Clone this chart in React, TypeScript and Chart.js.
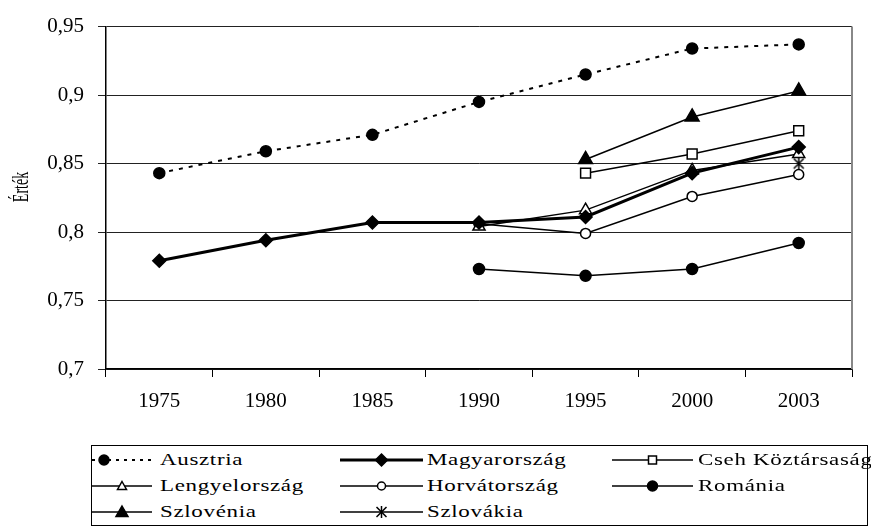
import React, { useEffect, useRef } from 'react';
import { Chart, registerables } from 'chart.js';

Chart.register(...registerables);

const years = ['1975', '1980', '1985', '1990', '1995', '2000', '2003'];
const ausztria = [0.843, 0.859, 0.871, 0.895, 0.915, 0.934, 0.937];
const magyarorszag = [0.779, 0.794, 0.807, 0.807, 0.811, 0.843, 0.862];
const cseh = [null, null, null, null, 0.843, 0.857, 0.874];
const lengyelorszag = [null, null, null, 0.804, 0.816, 0.845, 0.857];
const horvatorszag = [null, null, null, 0.806, 0.799, 0.826, 0.842];
const romania = [null, null, null, 0.773, 0.768, 0.773, 0.792];
const szlovenia = [null, null, null, null, 0.853, 0.884, 0.903];
const szlovakia = [null, null, null, null, null, null, 0.85];
const yTicks = [0.7, 0.75, 0.8, 0.85, 0.9, 0.95];
const yTitle = 'Érték';

const FONT = "'Liberation Serif', 'Times New Roman', serif";

type Shape = 'circle' | 'rectRot' | 'rect' | 'triangle' | 'star';

interface SeriesDef {
  label: string;
  data: (number | null)[];
  shape: Shape;
  radius: number;
  fill: string;
  width: number;
  dash: number[];
}

const series: SeriesDef[] = [
  { label: 'Ausztria', data: ausztria, shape: 'circle', radius: 5.5, fill: '#000', width: 2, dash: [4, 6] },
  { label: 'Magyarország', data: magyarorszag, shape: 'rectRot', radius: 6.5, fill: '#000', width: 3, dash: [] },
  { label: 'Cseh Köztársaság', data: cseh, shape: 'rect', radius: 7, fill: '#fff', width: 1.5, dash: [] },
  { label: 'Lengyelország', data: lengyelorszag, shape: 'triangle', radius: 7, fill: '#fff', width: 1.5, dash: [] },
  { label: 'Horvátország', data: horvatorszag, shape: 'circle', radius: 5, fill: '#fff', width: 1.5, dash: [] },
  { label: 'Románia', data: romania, shape: 'circle', radius: 5.5, fill: '#000', width: 1.5, dash: [] },
  { label: 'Szlovénia', data: szlovenia, shape: 'triangle', radius: 8, fill: '#000', width: 1.5, dash: [] },
  { label: 'Szlovákia', data: szlovakia, shape: 'star', radius: 6, fill: '#000', width: 1.5, dash: [] },
];

function makeAsterisk(): HTMLCanvasElement {
  const c = document.createElement('canvas');
  c.width = 14;
  c.height = 16;
  const g = c.getContext('2d')!;
  g.strokeStyle = '#000';
  g.lineWidth = 1.5;
  g.beginPath();
  g.moveTo(2, 3);
  g.lineTo(12, 13);
  g.moveTo(12, 3);
  g.lineTo(2, 13);
  g.moveTo(7, 1);
  g.lineTo(7, 15);
  g.stroke();
  return c;
}

const framePlugin = {
  id: 'framePlugin',
  afterDraw(chart: any) {
    const { ctx, chartArea } = chart;
    ctx.save();
    ctx.strokeStyle = '#888';
    ctx.lineWidth = 2;
    ctx.beginPath();
    ctx.moveTo(chartArea.right, chartArea.top);
    ctx.lineTo(chartArea.right, chartArea.bottom);
    ctx.stroke();
    ctx.restore();
    // rotated axis title, stretched like the reference
    ctx.save();
    ctx.translate(28, 187);
    ctx.rotate(-Math.PI / 2);
    ctx.scale(1, 1.7);
    ctx.font = `14px ${FONT}`;
    ctx.fillStyle = '#000';
    ctx.textAlign = 'center';
    ctx.textBaseline = 'alphabetic';
    ctx.fillText(yTitle, 0, 0);
    ctx.restore();
  },
};

function Marker({ shape, fill, cx, cy, size }: { shape: Shape; fill: string; cx: number; cy: number; size: number }) {
  const sw = 1.5;
  if (shape === 'circle') return <circle cx={cx} cy={cy} r={size} fill={fill} stroke="#000" strokeWidth={sw} />;
  if (shape === 'rectRot')
    return (
      <polygon
        points={`${cx},${cy - size} ${cx + size},${cy} ${cx},${cy + size} ${cx - size},${cy}`}
        fill={fill}
        stroke="#000"
        strokeWidth={sw}
      />
    );
  if (shape === 'rect')
    return <rect x={cx - size} y={cy - size} width={size * 2} height={size * 2} fill={fill} stroke="#000" strokeWidth={sw} />;
  if (shape === 'triangle')
    return (
      <polygon
        points={`${cx},${cy - size} ${cx + size},${cy + size * 0.75} ${cx - size},${cy + size * 0.75}`}
        fill={fill}
        stroke="#000"
        strokeWidth={sw}
      />
    );
  return (
    <g stroke="#000" strokeWidth={1.5}>
      <line x1={cx - size} y1={cy - size} x2={cx + size} y2={cy + size} />
      <line x1={cx - size} y1={cy + size} x2={cx + size} y2={cy - size} />
      <line x1={cx} y1={cy - size * 1.2} x2={cx} y2={cy + size * 1.2} />
    </g>
  );
}

const legendSizes: Record<string, number> = {
  Ausztria: 5,
  Magyarország: 6,
  'Cseh Köztársaság': 4,
  Lengyelország: 4.5,
  Horvátország: 4,
  Románia: 5,
  Szlovénia: 6,
  Szlovákia: 5,
};

const legendCols = [
  { x1: 92, x2: 152, text: 160 },
  { x1: 340, x2: 423, text: 427 },
  { x1: 612, x2: 693, text: 698 },
];
const legendRows = [460, 486, 512];

function Legend() {
  return (
    <div
      style={{
        position: 'absolute',
        left: 91,
        top: 445,
        width: 777,
        height: 81,
        border: '1px solid #000',
        boxSizing: 'border-box',
      }}
    >
      {series.map((s, i) => {
        const col = legendCols[i % 3];
        const rowY = legendRows[Math.floor(i / 3)];
        const w = col.x2 - col.x1;
        const mx = s.label === 'Ausztria' ? 12 : w / 2;
        return (
          <React.Fragment key={s.label}>
            <svg
              width={w}
              height={20}
              style={{ position: 'absolute', left: col.x1 - 92, top: rowY - 445 - 10 - 1 }}
            >
              <line
                x1={0}
                y1={10}
                x2={w}
                y2={10}
                stroke="#000"
                strokeWidth={s.width}
                strokeDasharray={s.dash.length ? '3 5' : undefined}
              />
              <Marker shape={s.shape} fill={s.fill} cx={mx} cy={10} size={legendSizes[s.label]} />
            </svg>
            <span
              style={{
                position: 'absolute',
                left: col.text - 92,
                top: rowY - 445 - 12 - 1,
                height: 24,
                lineHeight: '24px',
                fontFamily: FONT,
                fontSize: 17,
                letterSpacing: '0.5px',
                whiteSpace: 'nowrap',
                color: '#000',
                transform: 'scaleX(1.35)',
                transformOrigin: 'left center',
              }}
            >
              {s.label}
            </span>
          </React.Fragment>
        );
      })}
    </div>
  );
}

export default function App() {
  const ref = useRef<HTMLCanvasElement>(null);

  useEffect(() => {
    const canvas = ref.current;
    if (!canvas) return;
    const asterisk = makeAsterisk();
    const chart = new Chart(canvas, {
      type: 'line',
      data: {
        labels: years,
        datasets: series.map((s) => ({
          label: s.label,
          data: s.data,
          borderColor: '#000',
          backgroundColor: '#000',
          borderWidth: s.width,
          borderDash: s.dash,
          pointStyle: s.shape === 'star' ? (asterisk as any) : s.shape,
          pointRadius: s.radius,
          pointBackgroundColor: s.fill,
          pointBorderColor: '#000',
          pointBorderWidth: 1.5,
          spanGaps: false,
          tension: 0,
          fill: false,
          clip: false as any,
        })),
      },
      options: {
        responsive: false,
        animation: false,
        devicePixelRatio: 1,
        layout: { padding: { top: 24, right: 19, left: 0, bottom: 0 } },
        plugins: {
          legend: { display: false },
          tooltip: { enabled: false },
        },
        scales: {
          x: {
            offset: true,
            grid: { drawOnChartArea: false, drawTicks: true, tickLength: 8, color: '#000', offset: true },
            border: { color: '#000', width: 1.5 },
            ticks: { font: { family: FONT, size: 21 }, color: '#000', padding: 12, maxRotation: 0 },
            afterFit: (s: any) => {
              s.height = 71;
            },
          },
          y: {
            min: 0.7,
            max: 0.95,
            afterBuildTicks: (s: any) => {
              s.ticks = yTicks.map((v) => ({ value: v }));
            },
            grid: { color: '#222', lineWidth: 1, tickLength: 8 },
            border: { color: '#000', width: 1.5 },
            ticks: {
              font: { family: FONT, size: 21 },
              color: '#000',
              padding: 14,
              callback: (v: any) => String(Math.round(Number(v) * 100) / 100).replace('.', ','),
            },
            title: { display: false },
            afterFit: (s: any) => {
              s.width = 106;
            },
          },
        },
      },
      plugins: [framePlugin],
    });
    return () => chart.destroy();
  }, []);

  return (
    <div style={{ position: 'fixed', left: 0, top: 0, width: 871, height: 529, background: '#fff' }}>
      <canvas ref={ref} width={871} height={440} style={{ position: 'absolute', left: 0, top: 0, width: 871, height: 440 }} />
      <Legend />
    </div>
  );
}
